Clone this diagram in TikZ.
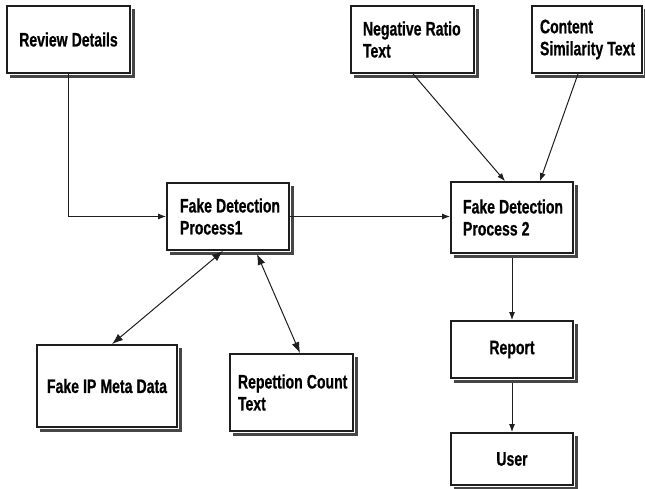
\documentclass[tikz,border=0pt]{standalone}
\usepackage{fontspec}
\setmainfont{Liberation Sans Bold}[FakeStretch=0.72, FakeBold=0.6]
\usetikzlibrary{arrows.meta,calc}
\definecolor{shadowc}{RGB}{70,70,70}
\definecolor{linec}{RGB}{30,30,30}
\begin{document}
\begin{tikzpicture}[x=1pt,y=-1pt,
  box/.style={draw=linec, line width=1.8pt, fill=white, inner sep=0pt,
    font=\fontsize{19.5}{22}\selectfont,
    execute at begin node={\spaceskip=0.21em\relax}},
  ctr/.style={align=center},
  lft/.style={align=left},
  shad/.style={draw=shadowc, line width=3.5pt, line cap=butt, line join=miter},
  conn/.style={draw=linec, line width=1pt, -{Latex[length=8pt,width=6pt]}},
  dconn/.style={draw=linec, line width=1pt, {Latex[length=11pt,width=8pt]}-{Latex[length=11pt,width=8pt]}}
]
\useasboundingbox (0,0) rectangle (645,488);

\node[box,ctr,minimum width=123pt,minimum height=67pt] (rd) at (68.5,39.5) {Review Details};
\node[box,lft,minimum width=122pt,minimum height=67pt,text width=96pt] (fd1) at (228,216.5) {\mbox{Fake Detection}\\\mbox{Process1}};
\node[box,lft,minimum width=122pt,minimum height=71pt,text width=98pt] (fd2) at (512,217.5) {\mbox{Fake Detection}\\\mbox{Process 2}};
\node[box,lft,minimum width=123pt,minimum height=67pt,text width=99pt] (nrt) at (412.5,39.5) {\mbox{Negative Ratio}\\\mbox{Text}};
\node[box,lft,minimum width=110pt,minimum height=67pt,text width=94pt] (cst) at (587,39.5) {\mbox{Content}\\\mbox{Similarity Text}};
\node[box,ctr,minimum width=122pt,minimum height=57pt] (rep) at (512,349.5) {Report};
\node[box,ctr,minimum width=122pt,minimum height=52pt] (usr) at (512,459) {User};
\node[box,ctr,minimum width=140pt,minimum height=82pt] (fip) at (107,386) {Fake IP Meta Data};
\node[box,lft,minimum width=123pt,minimum height=77pt,text width=107pt] (rct) at (291.5,392.5) {\mbox{Repettion Count}\\\mbox{Text}};

\foreach \n in {rd,fd1,fd2,nrt,cst,rep,usr,fip,rct}
  \draw[shad] ($(\n.north east)+(2.6,4)$) -- ($(\n.south east)+(2.6,2.6)$) -- ($(\n.south west)+(4,2.6)$);

\draw[conn] (rd.south) |- (fd1.west);
\draw[conn] (fd1.east) -- (fd1.east -| fd2.west);
\draw[conn] ($(nrt.south)+(0.5,0)$) -- ($(fd2.north)+(-7,0)$);
\draw[conn] ($(cst.south)+(-9,0)$) -- ($(fd2.north)+(28,0)$);
\draw[conn] ($(fd2.south)+(0,4.4)$) -- (rep.north);
\draw[conn] ($(rep.south)+(0,4.4)$) -- (usr.north);
\draw[dconn] ($(fd1.south)+(-5,0)$) -- ($(fip.north)+(5,0)$);
\draw[dconn] ($(fd1.south)+(29,3)$) -- ($(rct.north)+(8.5,0)$);
\end{tikzpicture}
\end{document}
